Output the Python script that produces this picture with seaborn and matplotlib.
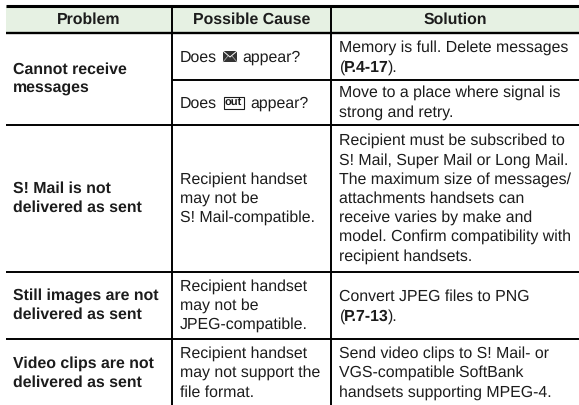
import matplotlib
matplotlib.use("Agg")
import matplotlib.pyplot as plt
from matplotlib.patches import Rectangle
import seaborn as sns

sns.set_theme(style="white", rc={"font.family": "Liberation Sans", "text.hinting": "none"})

headers = ["Problem", "Possible Cause", "Solution"]
problems = ["Cannot receive\nmessages", "S! Mail is not\ndelivered as sent",
            "Still images are not\ndelivered as sent", "Video clips are not\ndelivered as sent"]
causes = [None, None,
          "Recipient handset\nmay not be\nS! Mail-compatible.",
          "Recipient handset\nmay not be\nJPEG-compatible.",
          "Recipient handset\nmay not support the\nfile format."]
solutions = [("Memory is full. Delete messages", "P.4-17"),
             ("Move to a place where signal is\nstrong and retry.", None),
             ("Recipient must be subscribed to\nS! Mail, Super Mail or Long Mail.\n"
              "The maximum size of messages/\nattachments handsets can\nreceive varies by make and\n"
              "model. Confirm compatibility with\nrecipient handsets.", None),
             ("Convert JPEG files to PNG", "P.7-13"),
             ("Send video clips to S! Mail- or\nVGS-compatible SoftBank\nhandsets supporting MPEG-4.", None)]

W, H = 579, 405
col_x = [6, 172, 331, 579]
header_y = [6, 32.5]
cause_rows = [33, 80, 125, 272, 339, 407]
problem_rows = [33, 125, 272, 339, 407]

fig = plt.figure(figsize=(W / 100, H / 100), dpi=100)
ax = fig.add_axes([0, 0, 1, 1])
ax.set_xlim(0, W)
ax.set_ylim(H, 0)
ax.axis("off")

ink = "#1c1c1c"
fs = 11.4
lh = 1.37
renderer = fig.canvas.get_renderer()


def runs(x, y, parts):
    # regular and bold pieces on one baseline
    for s, weight in parts:
        t = ax.text(x, y, s, va="baseline", fontsize=fs, fontweight=weight, color=ink)
        x = ax.transData.inverted().transform(t.get_window_extent(renderer).corners()[2])[0] - 0.8


ax.add_patch(Rectangle((col_x[0], header_y[0]), col_x[3] - col_x[0], header_y[1] - header_y[0],
                       facecolor="#E6F1E3", edgecolor="none"))
for i, h in enumerate(headers):
    ax.text((col_x[i] + col_x[i + 1]) / 2, 19.5, h, ha="center", va="center",
            fontsize=fs, fontweight="bold", color=ink)

for i, t in enumerate(problems):
    ax.text(13, (problem_rows[i] + problem_rows[i + 1]) / 2, t, va="center", fontsize=fs,
            fontweight="bold", color=ink, linespacing=lh)

for i, t in enumerate(causes):
    if t:
        ax.text(180, (cause_rows[i] + cause_rows[i + 1]) / 2, t, va="center", fontsize=fs,
                color=ink, linespacing=lh)

for i, (t, ref) in enumerate(solutions):
    mid = (cause_rows[i] + cause_rows[i + 1]) / 2
    if ref:
        ax.text(339, mid - 4.5, t, va="baseline", fontsize=fs, color=ink)
        runs(339, mid + 15.5, [("(", "normal"), (ref, "bold"), (").", "normal")])
    else:
        ax.text(339, mid, t, va="center", fontsize=fs, color=ink, linespacing=lh)

# the two "Does ... appear?" cells with their status icons
ax.text(180, 62, "Does", va="baseline", fontsize=fs, color=ink)
ax.text(242, 62, "appear?", va="baseline", fontsize=fs, color=ink)
ax.text(180, 108, "Does", va="baseline", fontsize=fs, color=ink)
ax.text(250, 108, "appear?", va="baseline", fontsize=fs, color=ink)

ax.add_patch(Rectangle((223, 50.5), 14, 11.5, facecolor="#333333", edgecolor="none"))
ax.plot([223, 230, 237], [51, 57, 51], color="white", lw=0.7)
ax.plot([223, 228], [62, 56], color="#bbbbbb", lw=0.5)
ax.plot([237, 232], [62, 56], color="#bbbbbb", lw=0.5)
ax.add_patch(Rectangle((223.5, 96.5), 20, 12, facecolor="white", edgecolor=ink, lw=0.8))
ax.text(233.5, 102.5, "out", ha="center", va="center", fontsize=8, fontweight="bold", color=ink)

ax.hlines(header_y[0], col_x[0], col_x[3], color="black", lw=2.2)
ax.hlines(header_y[1], col_x[0], col_x[3], color="black", lw=1.7)
ax.hlines(cause_rows[1], col_x[1], col_x[3], color="black", lw=1.4)
ax.hlines(problem_rows[1:4], col_x[0], col_x[3], color="black", lw=1.4)
ax.vlines(col_x[1:3], header_y[0], H, color="black", lw=1.4)

fig.savefig("out.png", dpi=100)
